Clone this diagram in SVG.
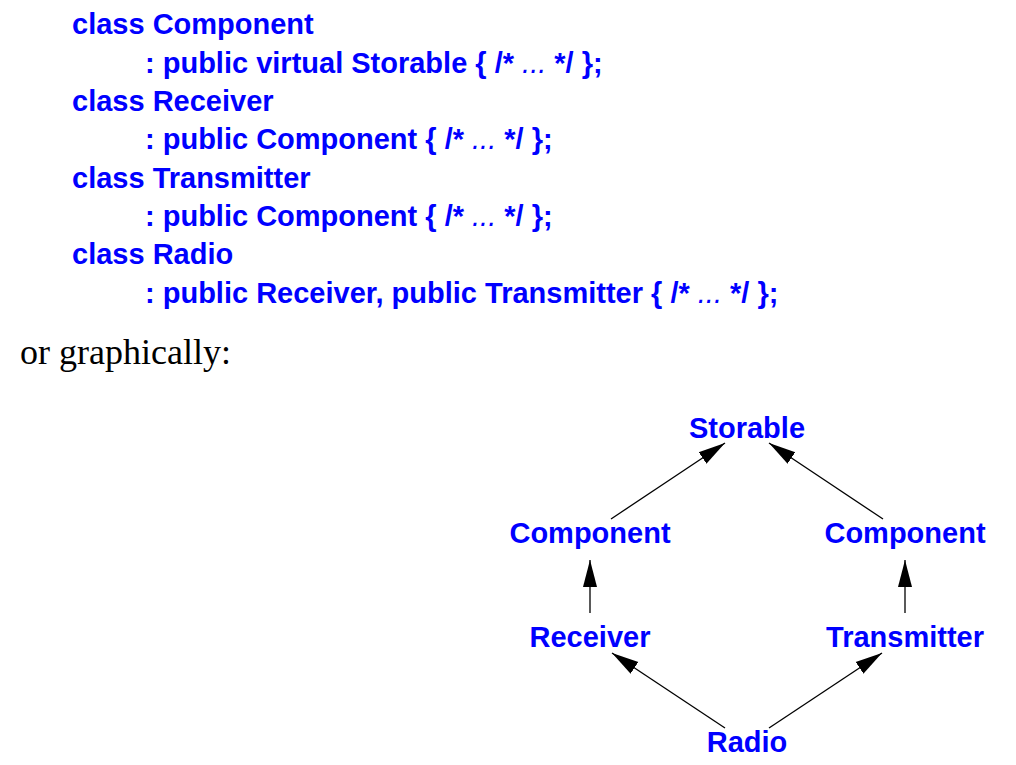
<svg xmlns="http://www.w3.org/2000/svg" width="1016" height="765" viewBox="0 0 1016 765">
<defs>
<style>
.code{font-family:"Liberation Sans",Arial,sans-serif;font-weight:bold;font-size:29px;fill:#0000ff}
.dots{font-weight:normal;font-style:italic}
.prose{font-family:"Liberation Serif","Times New Roman",serif;font-size:36px;fill:#000}
.lbl{font-family:"Liberation Sans",Arial,sans-serif;font-weight:bold;font-size:29px;fill:#0000ff;text-anchor:middle}
.edge{stroke:#000;stroke-width:1.3;fill:none;marker-end:url(#ah)}
</style>
<marker id="ah" markerUnits="userSpaceOnUse" markerWidth="28" markerHeight="16" refX="27" refY="7" orient="auto" viewBox="0 0 28 14">
<path d="M0,0 L27,7 L0,14 Z" fill="#000"/>
</marker>
</defs>
<rect width="1016" height="765" fill="#fff"/>
<g id="code">
<text class="code" x="72" y="34">class Component</text>
<text class="code" x="145" y="73">: public virtual Storable { /* <tspan class="dots">...</tspan> */ };</text>
<text class="code" x="72" y="111">class Receiver</text>
<text class="code" x="145" y="149">: public Component { /* <tspan class="dots">...</tspan> */ };</text>
<text class="code" x="72" y="188">class Transmitter</text>
<text class="code" x="145" y="226">: public Component { /* <tspan class="dots">...</tspan> */ };</text>
<text class="code" x="72" y="264">class Radio</text>
<text class="code" x="145" y="303">: public Receiver, public Transmitter { /* <tspan class="dots">...</tspan> */ };</text>
</g>
<text class="prose" x="20" y="364">or graphically:</text>
<g id="connectors">
<line class="edge" x1="611" y1="519" x2="725" y2="443"/>
<line class="edge" x1="883" y1="519" x2="769" y2="443"/>
<line class="edge" x1="590" y1="613" x2="590" y2="560"/>
<line class="edge" x1="905" y1="613" x2="905" y2="560"/>
<line class="edge" x1="725" y1="728" x2="612" y2="653"/>
<line class="edge" x1="769" y1="728" x2="882" y2="653"/>
</g>
<g id="storable"><text class="lbl" x="747" y="438">Storable</text></g>
<g id="component-left"><text class="lbl" x="590" y="543">Component</text></g>
<g id="component-right"><text class="lbl" x="905" y="543">Component</text></g>
<g id="receiver"><text class="lbl" x="590" y="647">Receiver</text></g>
<g id="transmitter"><text class="lbl" x="905" y="647">Transmitter</text></g>
<g id="radio"><text class="lbl" x="747" y="752">Radio</text></g>
</svg>
